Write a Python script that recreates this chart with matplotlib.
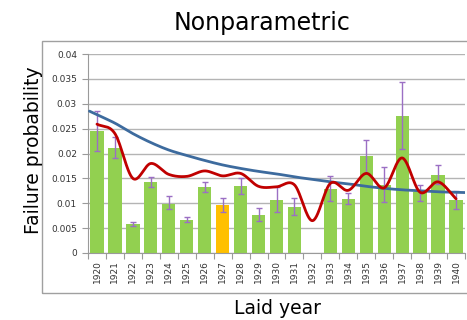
import numpy as np
import matplotlib
matplotlib.use("Agg")
import matplotlib.pyplot as plt
from matplotlib.patches import Rectangle

# Yearly failure probability with confidence bounds
years = list(range(1920, 1941))
rate = [0.0245, 0.0212, 0.0058, 0.0143, 0.0099, 0.0066, 0.0133, 0.0096, 0.0135, 0.0077, 0.0106,
        0.0093, 0.0, 0.0129, 0.0108, 0.0194, 0.0137, 0.0276, 0.0122, 0.0157, 0.0106]
rate_lower = [0.0205, 0.0190, 0.0054, 0.0133, 0.0088, 0.0062, 0.0122, 0.0083, 0.0118, 0.0064, 0.0082,
              0.0076, np.nan, 0.0104, 0.0098, 0.0160, 0.0103, 0.0210, 0.0105, 0.0138, 0.0088]
rate_upper = [0.0286, 0.0234, 0.0063, 0.0153, 0.0114, 0.0072, 0.0143, 0.0110, 0.0151, 0.0090, 0.0132,
              0.0111, np.nan, 0.0155, 0.0120, 0.0228, 0.0173, 0.0343, 0.0137, 0.0177, 0.0124]
highlight_year = 1927

# Nonparametric (kernel) estimate and fitted trend
nonparam = [0.0259, 0.0240, 0.0150, 0.0180, 0.0158, 0.0154, 0.0165, 0.0155, 0.0160, 0.0134, 0.0133,
            0.0137, 0.0065, 0.0140, 0.0126, 0.0160, 0.0131, 0.0191, 0.0122, 0.0143, 0.0109]
trend = [0.0278, 0.0261, 0.0240, 0.0222, 0.0207, 0.0196, 0.0186, 0.0177, 0.0170, 0.0164, 0.0159,
         0.0153, 0.0148, 0.0143, 0.0139, 0.0134, 0.0130, 0.0127, 0.0125, 0.0123, 0.0122]

y_ticks = [0, 0.005, 0.01, 0.015, 0.02, 0.025, 0.03, 0.035, 0.04]
y_tick_labels = ["0", "0.005", "0.01", "0.015", "0.02", "0.025", "0.03", "0.035", "0.04"]


# Catmull-Rom smoothing, similar to a spreadsheet "smoothed line"
def smooth(xs, ys, n=30, pre=0.0, post=0.0):
    xs = np.asarray(xs, float)
    ys = np.asarray(ys, float)
    px = np.concatenate([[2 * xs[0] - xs[1]], xs, [2 * xs[-1] - xs[-2]]])
    py = np.concatenate([[2 * ys[0] - ys[1]], ys, [2 * ys[-1] - ys[-2]]])
    out_x, out_y = [], []
    t = np.linspace(0, 1, n, endpoint=False)
    for i in range(1, len(px) - 2):
        p0, p1, p2, p3 = py[i - 1], py[i], py[i + 1], py[i + 2]
        yy = 0.5 * ((2 * p1) + (-p0 + p2) * t + (2 * p0 - 5 * p1 + 4 * p2 - p3) * t ** 2
                    + (-p0 + 3 * p1 - 3 * p2 + p3) * t ** 3)
        out_x.append(px[i] + (px[i + 1] - px[i]) * t)
        out_y.append(yy)
    out_x.append([xs[-1]])
    out_y.append([ys[-1]])
    sx = np.concatenate(out_x)
    sy = np.concatenate(out_y)
    # stretch the ends along their end slope
    if pre:
        s0 = (ys[1] - ys[0]) / (xs[1] - xs[0])
        sx = np.concatenate([[xs[0] - pre], sx])
        sy = np.concatenate([[ys[0] - s0 * pre], sy])
    if post:
        s1 = (ys[-1] - ys[-2]) / (xs[-1] - xs[-2])
        sx = np.concatenate([sx, [xs[-1] + post]])
        sy = np.concatenate([sy, [ys[-1] + s1 * post]])
    return sx, sy


W, H = 467, 320
fig = plt.figure(figsize=(W / 100, H / 100), dpi=100)
ax = fig.add_axes([88 / W, 67 / H, 377 / W, 199 / H])

x = np.arange(len(years))
colors = ["#FFC000" if y == highlight_year else "#92D050" for y in years]
ax.bar(x, rate, width=0.74, color=colors, zorder=2)

rate_a = np.array(rate)
yerr = np.vstack([rate_a - np.array(rate_lower), np.array(rate_upper) - rate_a])
ax.errorbar(x, rate_a, yerr=yerr, fmt="none", ecolor="#9B6FC4", elinewidth=1.0,
            capsize=2.5, capthick=1.0, zorder=3)

bx, by = smooth(x, trend, pre=0.42, post=0.5)
ax.plot(bx, by, color="#3D6B9E", lw=2.0, zorder=4, solid_capstyle="round")
rx, ry = smooth(x, nonparam)
ax.plot(rx, ry, color="#C00000", lw=2.0, zorder=5, solid_capstyle="round")

ax.set_xlim(-0.5, len(years) - 0.5)
ax.set_ylim(0, 0.04)

ax.set_yticks(y_ticks)
ax.set_yticklabels(y_tick_labels)
ax.yaxis.grid(True, color="#B4B4B4", lw=1.0, zorder=0)
ax.set_axisbelow(True)

ax.set_xticks(x)
ax.set_xticklabels([str(y) for y in years], rotation=90)
ax.set_xticks(np.arange(-0.5, len(years)), minor=True)
ax.tick_params(axis="x", which="major", length=0, pad=5, labelsize=6.5, labelcolor="#333333")
ax.tick_params(axis="x", which="minor", length=4, color="#9A9A9A", width=0.8)
ax.tick_params(axis="y", length=4, color="#9A9A9A", width=0.8, pad=4, labelsize=6.5,
               labelcolor="#333333")

for side in ["top", "right"]:
    ax.spines[side].set_visible(False)
for side in ["left", "bottom"]:
    ax.spines[side].set_color("#9A9A9A")
    ax.spines[side].set_linewidth(0.8)

# chart area frame
fig.patches.append(Rectangle((42 / W, 27 / H), 1.0, 252 / H, transform=fig.transFigure,
                             fill=False, edgecolor="#A0A0A0", lw=1.0))

fig.text(262 / W, 1 - 23 / H, "Nonparametric", ha="center", va="center", fontsize=17)
fig.text(277 / W, 1 - 309 / H, "Laid year", ha="center", va="center", fontsize=13.5)
fig.text(34 / W, 1 - 150 / H, "Failure probability", ha="center", va="center",
         rotation=90, fontsize=13.5)

fig.savefig("out.png", dpi=100)
